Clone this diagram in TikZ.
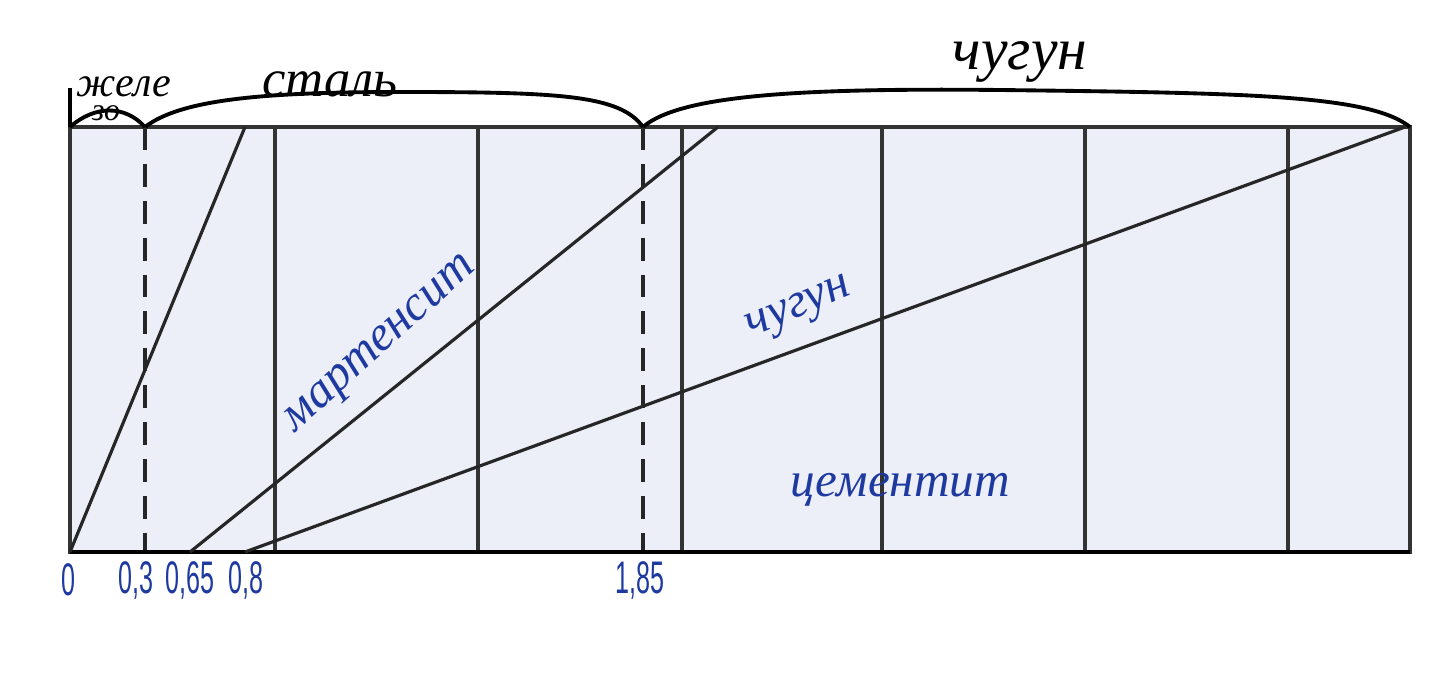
\documentclass[tikz,border=0pt]{standalone}
\usepackage{fontspec}
\setmainfont{Liberation Sans}
\newfontfamily\hand{Liberation Serif}
\newfontfamily\narrowsans[FakeStretch=0.55]{Liberation Sans}
\begin{document}
\begin{tikzpicture}[x=0.02cm,y=-0.02cm,
  ln/.style={line width=1.8pt,black!85},
  grid/.style={line width=2pt,black!80},
  dsh/.style={line width=2pt,black!85,dash pattern=on 13pt off 8pt},
  brace/.style={line width=2.2pt,black},
  blk/.style={font=\fontsize{30}{30}\selectfont\hand\itshape,inner sep=0pt},
  blu/.style={text=blueink,font=\fontsize{28}{28}\selectfont\hand\itshape,inner sep=0pt},
  tick/.style={text=blueink,font=\fontsize{26}{26}\selectfont\narrowsans,inner sep=0pt}]
\definecolor{blueink}{HTML}{1E3AA0}
\definecolor{paper}{HTML}{ECEFF8}
\useasboundingbox (0,0) rectangle (1429,675);
\fill[white] (0,0) rectangle (1429,675);
% corners
\coordinate (tl) at (70,127);
\coordinate (tr) at (1410,127);
\coordinate (bl) at (70,552);
\coordinate (br) at (1410,552);
\fill[paper] (tl) rectangle (br);
% verticals
\foreach \x/\n in {275/a,478/b,682/c,882/d,1085/e,1288/f}{
  \coordinate (t\n) at (\x,127);
  \coordinate (b\n) at (\x,552);
  \draw[grid] (t\n) -- (b\n);
}
\coordinate (td1) at (145,127); \coordinate (bd1) at (145,552);
\coordinate (td2) at (643,127); \coordinate (bd2) at (643,552);
\draw[dsh] (td1) -- (bd1);
\draw[dsh] (td2) -- (bd2);
\draw[grid] (tl) rectangle (br);
\draw[line width=2.4pt] (bl) -- (br);
% diagonals
\coordinate (d1s) at (70,552); \coordinate (d1e) at (245,127);
\coordinate (d2s) at (190,552); \coordinate (d2e) at (718,127);
\coordinate (d3s) at (245,552); \coordinate (d3e) at (1405,127);
\draw[ln] (d1s) -- (d1e);
\draw[ln] (d2s) -- (d2e);
\draw[ln] (d3s) -- (d3e);
% braces
\coordinate (k0) at (70,88);
\draw[brace] (k0) -- (tl);
\draw[brace] (tl) .. controls (95,105) and (125,105) .. (td1);
\draw[brace] (td1) .. controls (180,100) and (260,92) .. (400,92)
  .. controls (560,92) and (620,95) .. (td2);
\draw[brace] (td2) .. controls (680,95) and (800,88) .. (1000,90)
  .. controls (1250,93) and (1370,95) .. (tr);
% labels
\node[blk,font=\fontsize{24}{24}\selectfont\hand\itshape] (zhele) at (124,87) {желе};
\node[blk,font=\fontsize{18}{18}\selectfont\hand\itshape] (zo) at (106,113) {зо};
\node[blk] (stal) at (330,84) {сталь};
\node[blk,font=\fontsize{34}{34}\selectfont\hand\itshape] (chug) at (1020,62) {чугун};
\node[blu,rotate=42] (mart) at (382,346) {мартенсит};
\node[blu,rotate=23] (chug2) at (800,310) {чугун};
\node[blu] (cem) at (900,490) {цементит};
% ticks
\node[tick] (n0) at (68,580) {0};
\node[tick] (n1) at (136,580) {0,3};
\node[tick] (n2) at (190,580) {0,65};
\node[tick] (n3) at (246,580) {0,8};
\node[tick] (n4) at (640,580) {1,85};
\end{tikzpicture}
\end{document}
